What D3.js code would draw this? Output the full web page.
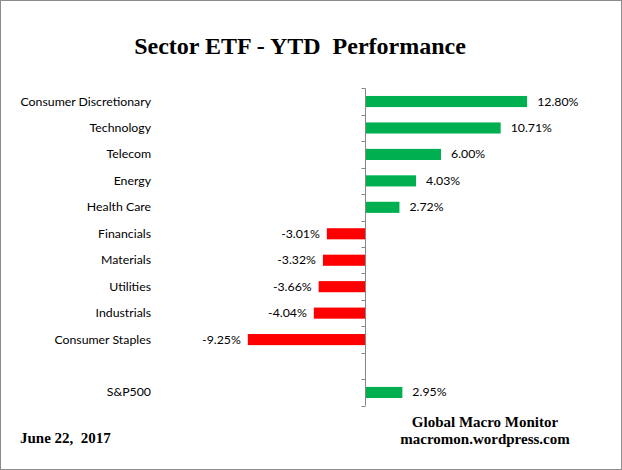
<!DOCTYPE html>
<html>
<head>
<meta charset="utf-8">
<script src="https://cdn.jsdelivr.net/npm/d3@7"></script>
<style>
  body { margin: 0; background: #fff; }
  svg text { white-space: pre; }
</style>
</head>
<body>
<div id="viz-container"></div>
<script>
// sector names, top to bottom ("" is the empty gap row)
let sectors = ["Consumer Discretionary", "Technology", "Telecom", "Energy", "Health Care",
  "Financials", "Materials", "Utilities", "Industrials", "Consumer Staples", "", "S&P500"];
// YTD performance, percent
let ytd = [12.80, 10.71, 6.00, 4.03, 2.72, -3.01, -3.32, -3.66, -4.04, -9.25, null, 2.95];

let titleText = "Sector ETF - YTD  Performance";
let dateText = "June 22,  2017";
let sourceLines = ["Global Macro Monitor", "macromon.wordpress.com"];

let width = 622, height = 470;

let rows = sectors.map(function (s, i) {
  return { name: s, key: "r" + i, value: ytd[i] };
});

let viz = d3.select("#viz-container")
  .append("svg")
    .attr("width", width)
    .attr("height", height)
;

// outer frame
viz.append("rect")
  .attr("x", 0.5).attr("y", 0.5)
  .attr("width", width - 1).attr("height", height - 1)
  .attr("fill", "white")
  .attr("stroke", "#8c8c8c")
  .attr("stroke-width", 1)
;

let x = d3.scaleLinear().domain([-15, 15]).range([175, 555]);
let y = d3.scaleBand().domain(rows.map(d => d.key)).range([88.3, 405.7]).paddingInner(0.58).paddingOuter(0.29);

// title
viz.append("text")
  .attr("x", 300).attr("y", 54)
  .attr("text-anchor", "middle")
  .attr("font-family", "Liberation Serif")
  .attr("font-weight", "bold")
  .attr("font-size", 24)
  .text(titleText)
;

// bars
viz.selectAll(".bar").data(rows.filter(d => d.value != null))
  .enter()
  .append("rect")
    .attr("class", "bar")
    .attr("x", d => x(Math.min(0, d.value)))
    .attr("y", d => y(d.key))
    .attr("width", d => Math.abs(x(d.value) - x(0)))
    .attr("height", y.bandwidth())
    .attr("fill", d => d.value >= 0 ? "#00b050" : "#ff0000")
;

// value labels (plain hyphen for negatives, like the original)
viz.selectAll(".val").data(rows.filter(d => d.value != null))
  .enter()
  .append("text")
    .attr("class", "val")
    .attr("x", d => d.value >= 0 ? x(d.value) + 10 : x(d.value) - 7)
    .attr("y", d => y(d.key) + y.bandwidth() / 2 + 4)
    .attr("text-anchor", d => d.value >= 0 ? "start" : "end")
    .attr("font-family", "Lato")
    .attr("font-size", 12.3)
    .attr("fill", "#000")
    .text(d => d.value.toFixed(2) + "%")
;

// category axis on the zero line, ticks pointing left
let step = y.step();
let axisG = viz.append("g").attr("transform", "translate(" + Math.round(x(0)) + ".5,0)");
axisG.append("line")
  .attr("x1", 0).attr("x2", 0)
  .attr("y1", 88.3).attr("y2", 405.7)
  .attr("stroke", "#868686")
;
axisG.selectAll(".tk").data(d3.range(rows.length + 1))
  .enter()
  .append("line")
    .attr("x1", -4).attr("x2", 0)
    .attr("y1", i => Math.round(88.3 + i * step) + 0.5)
    .attr("y2", i => Math.round(88.3 + i * step) + 0.5)
    .attr("stroke", "#868686")
;

// category labels
viz.selectAll(".cat").data(rows)
  .enter()
  .append("text")
    .attr("class", "cat")
    .attr("x", 151)
    .attr("y", d => y(d.key) + y.bandwidth() / 2 + 4)
    .attr("text-anchor", "end")
    .attr("font-family", "Lato")
    .attr("font-size", 12.3)
    .attr("fill", "#000")
    .text(d => d.name)
;

// footer
viz.append("text")
  .attr("x", 20).attr("y", 443)
  .attr("font-family", "Liberation Serif")
  .attr("font-weight", "bold")
  .attr("font-size", 15)
  .text(dateText)
;
viz.selectAll(".src").data(sourceLines)
  .enter()
  .append("text")
    .attr("class", "src")
    .attr("x", 485)
    .attr("y", (d, i) => 427 + i * 17)
    .attr("text-anchor", "middle")
    .attr("font-family", "Liberation Serif")
    .attr("font-weight", "bold")
    .attr("font-size", 15)
    .text(d => d)
;
</script>
</body>
</html>
